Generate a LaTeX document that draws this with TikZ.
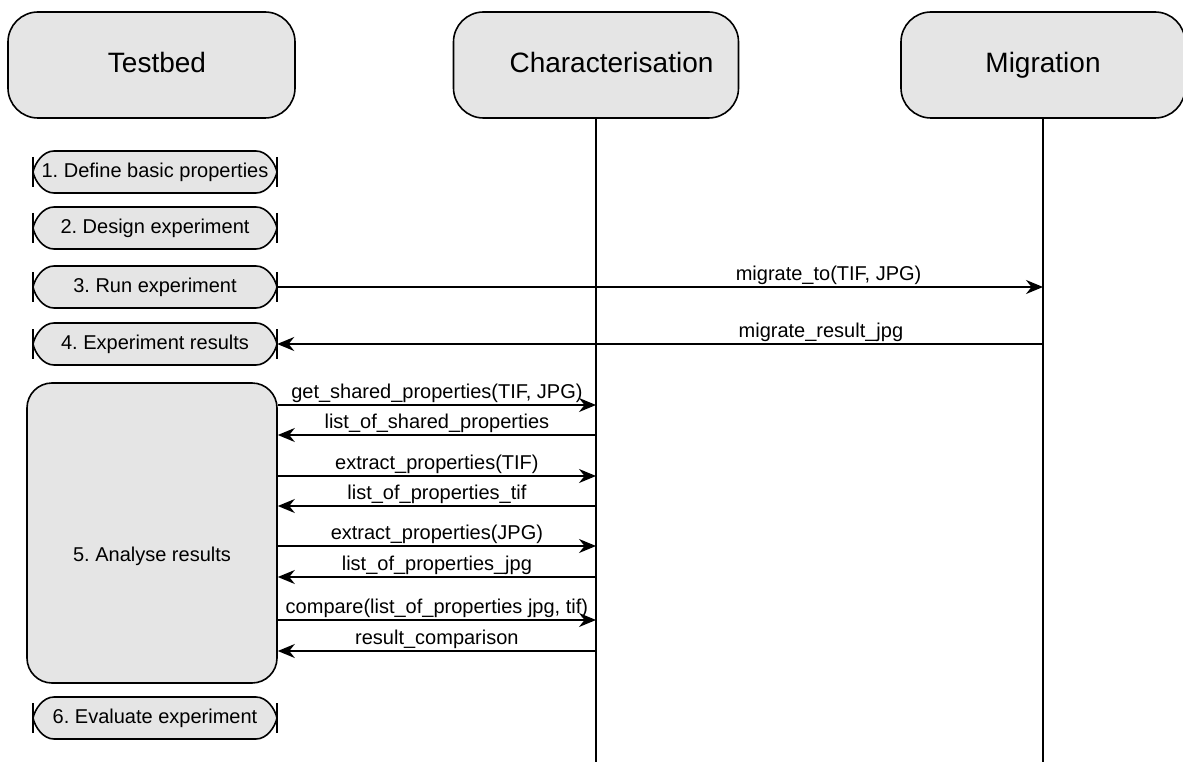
\documentclass[tikz,border=0pt]{standalone}
\usepackage{fontspec}
\setmainfont{Liberation Sans}
\usetikzlibrary{arrows.meta}
\definecolor{boxgray}{gray}{0.9}
\tikzset{
	lane/.style={draw,fill=boxgray,line width=1.6pt,rounded corners=30pt,minimum height=106pt,text height=16pt,text depth=0pt,font=\fontsize{28}{34}\selectfont},
	stepnode/.style={inner sep=0pt,minimum width=244pt,minimum height=42pt,font=\fontsize{20}{24}\selectfont},
	stepline/.style={draw,fill=boxgray,line width=1.6pt},
	stepbar/.style={line width=2.5pt},
	life/.style={line width=1.6pt},
	msg/.style={line width=1.6pt,-{Stealth[length=17pt,width=14pt]}},
	lbl/.style={above,inner sep=2pt,font=\fontsize{20}{24}\selectfont}
}
\def\stepshape(#1,#2){%
	\draw[stepline] ({#1-101},{#2-21}) -- ({#1+101},{#2-21}) .. controls ({#1+112},{#2-21}) and ({#1+120},{#2-9}) .. ({#1+122},#2) .. controls ({#1+120},{#2+9}) and ({#1+112},{#2+21}) .. ({#1+101},{#2+21}) -- ({#1-101},{#2+21}) .. controls ({#1-112},{#2+21}) and ({#1-120},{#2+9}) .. ({#1-122},#2) .. controls ({#1-120},{#2-9}) and ({#1-112},{#2-21}) .. cycle;
	\draw[stepbar] ({#1-122},{#2-15}) -- ({#1-122},{#2+15});
	\draw[stepbar] ({#1+122},{#2-15}) -- ({#1+122},{#2+15});}

\begin{document}
\frenchspacing
\begin{tikzpicture}[x=1pt,y=-1pt]
				\useasboundingbox (0,0) rectangle (1183,762);
				
				\node[lane,minimum width=287pt] (tb) at (151.5,65) {\hspace*{11pt}Testbed};
				\node[lane,minimum width=285pt] (ch) at (596,65) {\hspace*{31pt}Characterisation};
				\node[lane,minimum width=284pt] (mig) at (1043,65) {Migration};
				
				\coordinate (chend) at (596,762);
				\coordinate (migend) at (1043,762);
				\draw[life] (ch.south) -- (chend);
				\draw[life] (mig.south) -- (migend);
				
				\stepshape(155,172)
				\node[stepnode] (s1) at (155,172) {1. Define basic properties};
				\stepshape(155,228)
				\node[stepnode] (s2) at (155,228) {2. Design experiment};
				\stepshape(155,287)
				\node[stepnode] (s3) at (155,287) {3. Run experiment};
				\stepshape(155,344)
				\node[stepnode] (s4) at (155,344) {4. Experiment results};
				\stepshape(155,718)
				\node[stepnode] (s6) at (155,718) {6. Evaluate experiment};
				
				\draw[msg] (s3.east) -- (s3.east -| mig.south) node[lbl,pos=0.72] {migrate\_to(TIF, JPG)};
				\draw[msg] (s4.east -| mig.south) -- (s4.east) node[lbl,pos=0.29] {migrate\_result\_jpg};
				
				\node[draw,fill=boxgray,line width=1.6pt,rounded corners=25pt,minimum width=250pt,minimum height=300pt,text height=56pt,text depth=0pt,font=\fontsize{20}{24}\selectfont] (a5) at (152,533) {5. Analyse results};
				
				\draw[msg] (a5.east |- 0,405) -- (ch.south |- 0,405) node[lbl,midway] {get\_shared\_properties(TIF, JPG)};
				\draw[msg] (ch.south |- 0,435) -- (a5.east |- 0,435) node[lbl,midway] {list\_of\_shared\_properties};
				\draw[msg] (a5.east |- 0,476) -- (ch.south |- 0,476) node[lbl,midway] {extract\_properties(TIF)};
				\draw[msg] (ch.south |- 0,506) -- (a5.east |- 0,506) node[lbl,midway] {list\_of\_properties\_tif};
				\draw[msg] (a5.east |- 0,546) -- (ch.south |- 0,546) node[lbl,midway] {extract\_properties(JPG)};
				\draw[msg] (ch.south |- 0,577) -- (a5.east |- 0,577) node[lbl,midway] {list\_of\_properties\_jpg};
				\draw[msg] (a5.east |- 0,620) -- (ch.south |- 0,620) node[lbl,midway] {compare(list\_of\_properties jpg, tif)};
				\draw[msg] (ch.south |- 0,651) -- (a5.east |- 0,651) node[lbl,midway] {result\_comparison};
			\end{tikzpicture}
\end{document}
